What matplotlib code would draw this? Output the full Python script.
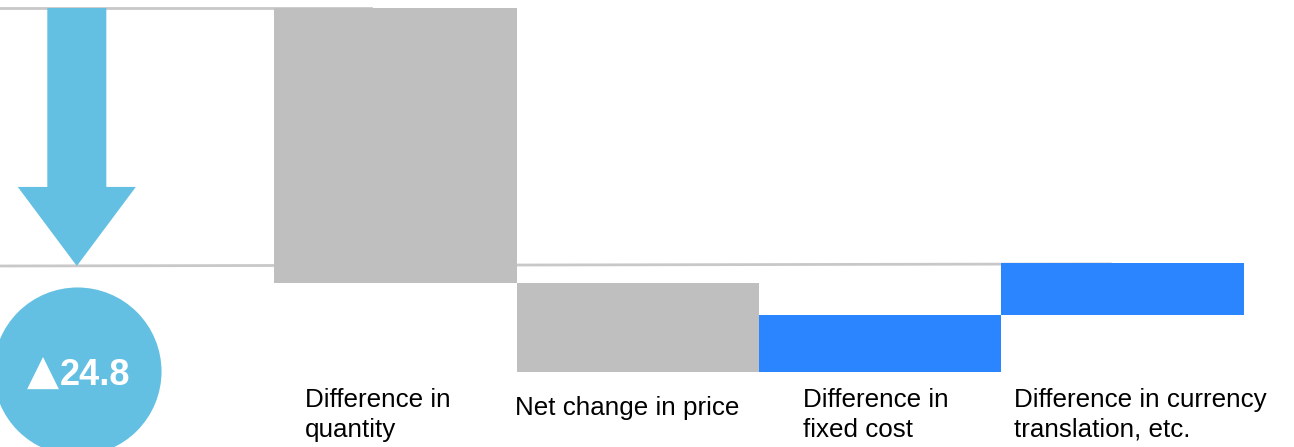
import matplotlib.pyplot as plt
import numpy as np

plt.rcParams['font.family'] = ['Liberation Sans', 'DejaVu Sans']

# waterfall steps (start level = 0)
categories = ['Difference in\nquantity', 'Net change in price',
              'Difference in\nfixed cost', 'Difference in currency\ntranslation, etc.']
changes = [-26.4, -8.6, 5.5, 5.0]
bar_colors = ['#BFBFBF', '#BFBFBF', '#2A85FF', '#2A85FF']
total_change = -24.8

LIGHT_BLUE = '#63C0E2'
LINE_GRAY = '#C8C8C8'

ends = np.cumsum(changes)
starts = ends - np.array(changes)
xs = np.arange(len(changes))

fig = plt.figure(figsize=(12.94, 4.47), dpi=100)
ax = fig.add_axes([0, 0, 1, 1])
ax.set_xlim(-1.632, 3.708)
ax.set_ylim(-42.2, 0.77)
ax.axis('off')

# reference levels: start and end
ax.plot([-1.632, -0.1], [0, 0], color=LINE_GRAY, lw=2, zorder=1)
ax.plot([-1.632, 2.95], [total_change, total_change + 0.2], color=LINE_GRAY, lw=2, zorder=1)

# the waterfall bars
ax.bar(xs, changes, bottom=starts, width=1.0, color=bar_colors, zorder=2)

# summary arrow and bubble on the left
arrow_x = -1.315
ax.arrow(arrow_x, 0, 0, total_change, width=0.2435, head_width=0.487,
         head_length=7.6, length_includes_head=True, color=LIGHT_BLUE, lw=0, zorder=3)
ax.scatter([arrow_x], [-34.87], s=121 ** 2, color=LIGHT_BLUE, lw=0, zorder=3, clip_on=False)
# ▲ marks a decrease
ax.text(arrow_x - 0.075, -36.24, '▲', family='DejaVu Sans', color='white',
        fontsize=30, ha='right', va='baseline', zorder=4)
ax.text(arrow_x - 0.072, -36.24, f'{abs(total_change):.1f}', color='white',
        fontsize=26, fontweight='bold', ha='left', va='baseline', zorder=4)

# category labels under the bars (y = baseline of the last line)
label_dx = [-0.3735, -0.507, -0.317, -0.447]
label_y = [-41.21, -39.12, -41.21, -41.21]
for x, dx, y, name in zip(xs, label_dx, label_y, categories):
    ax.text(x + dx, y, name, fontsize=18.7, ha='left', va='baseline',
            linespacing=1.3, color='black')

fig.savefig('out.png', dpi=100)
